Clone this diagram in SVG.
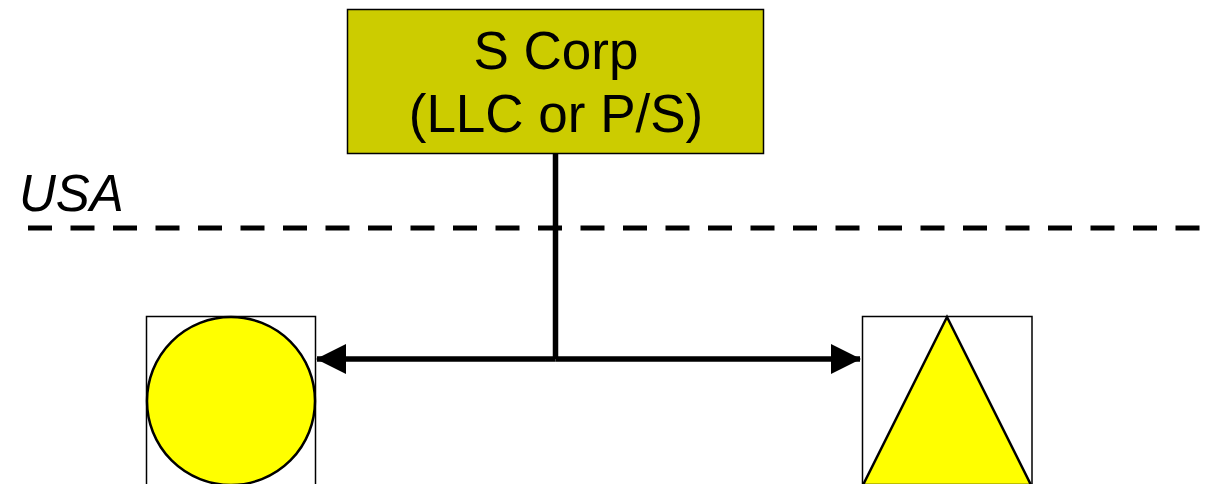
<svg xmlns="http://www.w3.org/2000/svg" width="1211" height="484" viewBox="0 0 1211 484">
  <style>
    .label { font-family: "Liberation Sans", Arial, sans-serif; font-size: 51px; fill: #000; }
    .box-label { font-size: 53px; }
    .frame { fill: #fff; stroke: #000; stroke-width: 1.5; }
    .shape { fill: #ffff00; stroke: #000; stroke-width: 2.5; }
    .wire { stroke: #000; stroke-width: 5.5; fill: none; }
  </style>
  <defs>
    <marker id="arrow" viewBox="0 0 30 30" refX="29" refY="15" markerWidth="30" markerHeight="30" markerUnits="userSpaceOnUse" orient="auto-start-reverse">
      <path d="M0,0 L30,15 L0,30 Z" fill="#000"/>
    </marker>
  </defs>

  <rect width="1211" height="484" fill="#fff"/>

  <!-- border line -->
  <g id="border">
    <line x1="28" y1="228" x2="1211" y2="228" stroke="#000" stroke-width="5" stroke-dasharray="24 18.5"/>
    <text class="label" x="19" y="211" font-style="italic">USA</text>
  </g>

  <!-- connectors -->
  <g id="connectors">
    <line class="wire" x1="555.5" y1="154" x2="555.5" y2="359"/>
    <line class="wire" x1="555.5" y1="359" x2="317" y2="359" marker-end="url(#arrow)"/>
    <line class="wire" x1="555.5" y1="359" x2="860" y2="359" marker-end="url(#arrow)"/>
  </g>

  <g id="s-corp">
    <rect x="347.5" y="9.5" width="416" height="144" fill="#cccc00" stroke="#000" stroke-width="1.5"/>
    <text class="label box-label" x="556" y="69" text-anchor="middle">S Corp</text>
    <text class="label box-label" x="556" y="132" text-anchor="middle">(LLC or P/S)</text>
  </g>

  <g id="circle-entity">
    <rect class="frame" x="146.5" y="316.5" width="169" height="175"/>
    <circle class="shape" cx="231" cy="401" r="84"/>
  </g>

  <g id="triangle-entity">
    <rect class="frame" x="862.5" y="316.5" width="169.5" height="175"/>
    <polygon class="shape" points="947,317 863,485 1031,485"/>
  </g>
</svg>
